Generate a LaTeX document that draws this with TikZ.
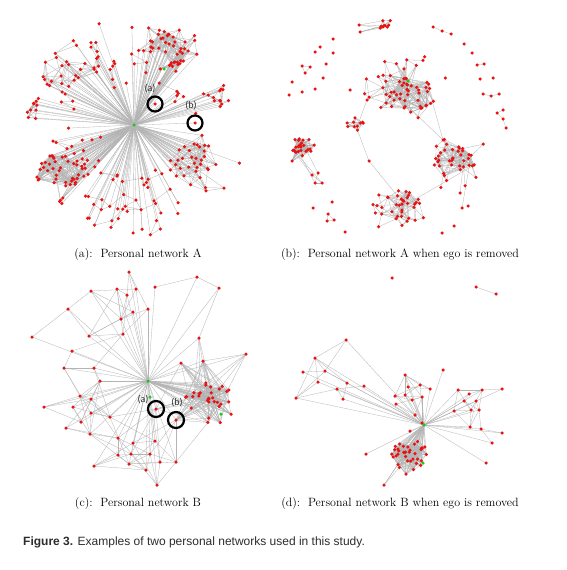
\documentclass[tikz,border=0pt]{standalone}
\usepackage{fontspec}
\newfontfamily\capfont{Liberation Sans}
\newfontfamily\lblfont{Carlito}
\pgfdeclarelayer{back}
\pgfdeclarelayer{bg}
\pgfsetlayers{back,bg,main}
\definecolor{dotred}{RGB}{232,18,18}
\definecolor{dotgreen}{RGB}{30,200,30}
\definecolor{edgegray}{RGB}{180,180,180}
\definecolor{captxt}{RGB}{45,45,45}
\tikzset{
  edge/.style={draw=edgegray, line width=0.3pt},
  dot/.style={circle, fill=dotred, inner sep=0pt, minimum size=3.5pt},
  gdot/.style={circle, fill=dotgreen, inner sep=0pt, minimum size=3.5pt},
  hilite/.style={circle, draw=black, line width=2.2pt, inner sep=0pt, minimum size=15pt},
  hlabel/.style={font=\lblfont\fontsize{10}{12}\selectfont, text=captxt, inner sep=0pt},
  subcap/.style={font=\fontsize{12}{14}\selectfont, text=black, inner sep=0pt},
}
\newcommand\setpt[4]{%
  \expandafter\xdef\csname Px-#1-#2\endcsname{#3}%
  \expandafter\xdef\csname Py-#1-#2\endcsname{#4}%
  \coordinate (#1-#2) at (#3,#4);%
}
\newcommand\gen[7]{% group, start, count, cx, cy, rx, ry
  \foreach \k in {1,...,#3}{%
    \pgfmathsetmacro\rr{sqrt(rnd)}%
    \pgfmathsetmacro\aa{360*rnd}%
    \pgfmathsetmacro\px{#4+#6*\rr*cos(\aa)}%
    \pgfmathsetmacro\py{#5+#7*\rr*sin(\aa)}%
    \pgfmathtruncatemacro\idx{#2+\k-1}%
    \setpt{#1}{\idx}{\px}{\py}%
  }%
}
\newcommand\genarc[9]{% group, start, count, cx, cy, r1, r2, a1, a2
  \foreach \k in {1,...,#3}{%
    \pgfmathsetmacro\rr{#6+(#7-#6)*rnd}%
    \pgfmathsetmacro\aa{#8+(#9-#8)*rnd}%
    \pgfmathsetmacro\px{#4+\rr*cos(\aa)}%
    \pgfmathsetmacro\py{#5+\rr*sin(\aa)}%
    \pgfmathtruncatemacro\idx{#2+\k-1}%
    \setpt{#1}{\idx}{\px}{\py}%
  }%
}
\newcommand\ptlist[3]{%
  \foreach \xx/\yy [count=\k from #2] in {#3}{\setpt{#1}{\k}{\xx}{\yy}}%
}
\newcommand\proxedges[4]{% group, n, dist, prob
  \begin{pgfonlayer}{bg}
  \foreach \i in {1,...,#2}{%
    \foreach \j in {\i,...,#2}{%
      \ifnum\j>\i\relax
        \edef\xa{\csname Px-#1-\i\endcsname}\edef\xb{\csname Px-#1-\j\endcsname}%
        \edef\ya{\csname Py-#1-\i\endcsname}\edef\yb{\csname Py-#1-\j\endcsname}%
        \pgfmathsetmacro\dd{veclen(\xa-\xb,\ya-\yb)}%
        \pgfmathsetmacro\rqq{rnd}%
        \ifdim\dd pt<#3pt\relax\ifdim\rqq pt<#4pt\relax
          \draw[edge] (#1-\i) -- (#1-\j);%
        \fi\fi
      \fi
    }%
  }%
  \end{pgfonlayer}
}
\newcommand\spokes[3]{% group, n, hub
  \begin{pgfonlayer}{bg}
  \foreach \i in {1,...,#2}{\draw[edge] (#3) -- (#1-\i);}%
  \end{pgfonlayer}
}
\newcommand\drawdots[2]{\foreach \i in {1,...,#2}{\node[dot] at (#1-\i) {};}}
\begin{document}
\begin{tikzpicture}[x=1pt,y=-1pt]
\pgfmathsetseed{11}
\useasboundingbox (0,0) rectangle (566,570);
\begin{pgfonlayer}{back}
\fill[white] (0,0) rectangle (566,570);
\end{pgfonlayer}

% ================= Panel A =================
\coordinate (EA) at (134,125);
\gen{A1}{1}{30}{174}{46}{27}{21}\gen{A1}{31}{14}{172}{48}{40}{30}
\gen{A2}{1}{28}{68}{65}{32}{28}
\gen{A3}{1}{10}{35}{110}{10}{14}
\gen{A4}{1}{32}{60}{171}{25}{18}\gen{A4}{33}{6}{62}{178}{32}{27}
\gen{A5}{1}{22}{198}{160}{24}{18}\gen{A5}{23}{14}{200}{162}{42}{32}
\gen{A6}{1}{12}{222}{100}{20}{20}
\genarc{A7}{1}{48}{134}{125}{50}{112}{60}{135}
\genarc{A8}{1}{18}{134}{125}{40}{108}{240}{285}
\genarc{A9}{1}{12}{134}{125}{35}{95}{160}{205}
\genarc{A10}{1}{10}{134}{125}{40}{95}{300}{350}
\genarc{A11}{1}{8}{134}{125}{40}{90}{135}{160}
\ptlist{AS}{1}{155/104,195/123}
\proxedges{A1}{44}{22}{0.5}
\proxedges{A2}{28}{24}{0.4}
\proxedges{A3}{10}{18}{0.6}
\proxedges{A4}{38}{28}{0.55}
\proxedges{A5}{36}{22}{0.45}
\proxedges{A6}{12}{20}{0.4}
\proxedges{A7}{48}{20}{0.3}
\proxedges{A8}{18}{18}{0.3}
\proxedges{A9}{12}{20}{0.3}
\proxedges{A10}{10}{20}{0.3}
\proxedges{A11}{8}{20}{0.3}
\spokes{A1}{44}{EA}\spokes{A2}{28}{EA}\spokes{A3}{10}{EA}\spokes{A4}{38}{EA}
\spokes{A5}{36}{EA}\spokes{A6}{12}{EA}\spokes{A7}{48}{EA}\spokes{A8}{18}{EA}
\spokes{A9}{12}{EA}\spokes{A10}{10}{EA}\spokes{A11}{8}{EA}\spokes{AS}{2}{EA}
\drawdots{A1}{44}\drawdots{A2}{28}\drawdots{A3}{10}\drawdots{A4}{38}
\drawdots{A5}{36}\drawdots{A6}{12}\drawdots{A7}{48}\drawdots{A8}{18}
\drawdots{A9}{12}\drawdots{A10}{10}\drawdots{A11}{8}\drawdots{AS}{2}
\node[gdot] (egoA) at (EA) {};
\node[gdot] (gA2) at (164,69) {};
\node[hilite] (ringAa) at (AS-1) {};
\node[hilite] (ringAb) at (AS-2) {};
\node[hlabel] (labAa) at (150,89) {(a)};
\node[hlabel] (labAb) at (191,106) {(b)};
\node[subcap] (capA) at (138,255) {(a):\ \ Personal network A};

% ================= Panel B =================
\gen{B1}{1}{9}{384}{23}{8}{6}\ptlist{B1}{10}{359/25,360/32}
\gen{B2}{1}{35}{412}{95}{23}{18}\gen{B2}{36}{25}{405}{85}{46}{36}
\gen{B3}{1}{25}{302}{147}{13}{10}\ptlist{B3}{26}{292/161,312/175,318/173,315/183,322/183}
\gen{B4}{1}{28}{455}{162}{21}{16}\gen{B4}{29}{12}{455}{162}{36}{29}\ptlist{B4}{41}{460/193,462/208,468/206}
\gen{B5}{1}{30}{397}{207}{25}{20}\gen{B5}{31}{8}{397}{207}{32}{26}
\gen{B6}{1}{10}{355}{122}{9}{13}
\ptlist{BI}{1}{333/39,320/47,315/52,333/53,302/66,310/67,305/73,326/64,323/78,292/82,302/92,315/89,289/95,350/90,433/27,442/31,451/34,464/44,472/53,477/65,484/64,480/79,493/78,483/94,491/96,499/94,503/110,497/113,503/119,506/128,313/208,332/202,328/214,334/220,327/221,345/232,442/233,454/226}
\ptlist{BX}{1}{443/140,369/161,367/100}
\proxedges{B1}{11}{28}{0.6}
\proxedges{B2}{60}{24}{0.4}
\proxedges{B3}{30}{20}{0.6}
\proxedges{B4}{43}{22}{0.45}
\proxedges{B5}{38}{20}{0.4}
\proxedges{B6}{10}{16}{0.6}
\begin{pgfonlayer}{bg}
\draw[edge] (BI-5) -- (BI-6) -- (BI-7) -- (BI-5);
\draw[edge] (BI-15) -- (BI-16) -- (BI-17);
\draw[edge] (BI-20) -- (BI-21);
\draw[edge] (BI-24) -- (BI-25) -- (BI-26);
\draw[edge] (BI-27) -- (BI-28) -- (BI-29) -- (BI-30);
\draw[edge] (BI-33) -- (BI-34) -- (BI-35) -- (BI-33);
\draw[edge] (B2-1) -- (BX-1) -- (B4-1);
\draw[edge] (B2-2) -- (BX-1);
\draw[edge] (B5-1) -- (B4-2);
\draw[edge] (B5-2) -- (BX-2) -- (B6-1);
\draw[edge] (B6-2) -- (BX-3) -- (B2-3);
\draw[edge] (B3-1) -- (B3-27);\draw[edge] (B3-2) -- (B3-28);
\draw[edge] (B3-3) -- (B3-29);\draw[edge] (B3-4) -- (B3-30);
\draw[edge] (B4-3) -- (B4-41);\draw[edge] (B4-4) -- (B4-42);
\end{pgfonlayer}
\drawdots{B1}{11}\drawdots{B2}{60}\drawdots{B3}{30}\drawdots{B4}{43}
\drawdots{B5}{38}\drawdots{B6}{10}\drawdots{BI}{38}\drawdots{BX}{3}
\node[gdot] (gB) at (408,81) {};
\node[subcap] (capB) at (400,255) {(b):\ \ Personal network A when ego is removed};

% ================= Panel C =================
\coordinate (EC) at (148,381);
\ptlist{C}{1}{129/272,197/277,219/288,117/289,136/289,155/287,91/291,127/295,148/309,133/312,121/319,68/309,123/334,32/337,89/336,199/338,72/351,246/354,64/368,94/368,181/363,203/361,100/381,80/396,91/399,44/407,73/407,91/413,110/417,81/422,66/428,90/434,118/438,133/443,155/441,118/455,131/454,150/454,94/466,129/464,160/462,176/462,146/470,157/485,156/409,176/420}
\gen{C}{47}{30}{212}{402}{27}{22}
\proxedges{C}{76}{55}{0.4}
\spokes{C}{76}{EC}
\drawdots{C}{76}
\node[gdot] (egoC) at (EC) {};
\node[gdot] (gC2) at (150,397) {};
\node[gdot] (gC3) at (221,414) {};
\node[hilite, minimum size=16pt] (ringCa) at (C-45) {};
\node[hilite, minimum size=16pt] (ringCb) at (C-46) {};
\node[hlabel] (labCa) at (143,400) {(a)};
\node[hlabel] (labCb) at (177,403) {(b)};
\node[subcap] (capC) at (138,503) {(c):\ \ Personal network B};

% ================= Panel D =================
\coordinate (HD) at (424,425);
\ptlist{D1}{1}{315/358,303/372,325/371,318/382,337/389,347/383,364/386,343/399,296/398,346/340}
\ptlist{D2}{1}{405/375,408/387,420/385,430/389,443/370,395/396,405/395,412/400,422/397,396/404,415/415,410/431,422/423}
\ptlist{D3}{1}{458/390,469/394,482/390,502/389,464/401,476/401,454/411,471/410,479/410,470/427,481/429,502/433,492/443,486/463}
\gen{D4}{1}{35}{410}{455}{20}{15}\ptlist{D4}{36}{366/454,384/485,406/474}
\ptlist{DI}{1}{392/278,476/287,496/294}
\proxedges{D1}{10}{45}{0.6}
\proxedges{D2}{13}{30}{0.5}
\proxedges{D3}{14}{30}{0.5}
\proxedges{D4}{38}{26}{0.5}
\spokes{D1}{10}{HD}\spokes{D2}{13}{HD}\spokes{D3}{14}{HD}\spokes{D4}{38}{HD}
\begin{pgfonlayer}{bg}
\draw[edge] (DI-2) -- (DI-3);
\end{pgfonlayer}
\drawdots{D1}{10}\drawdots{D2}{13}\drawdots{D3}{14}\drawdots{D4}{38}\drawdots{DI}{3}
\node[gdot] (hubD) at (HD) {};
\node[gdot] (gD2) at (423,463) {};
\node[subcap] (capD) at (400,503) {(d):\ \ Personal network B when ego is removed};

% ================= Figure caption =================
\node[anchor=west, inner sep=0pt, text=captxt, font=\capfont\fontsize{12}{14}\selectfont] (figcap) at (23,542) {\textbf{Figure 3.} Examples of two personal networks used in this study.};
\end{tikzpicture}
\end{document}
